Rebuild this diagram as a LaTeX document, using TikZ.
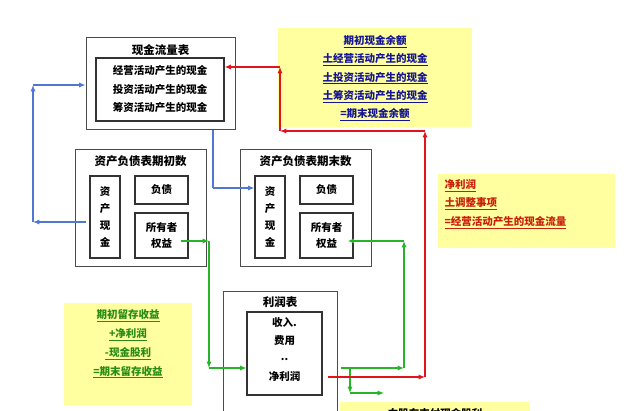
\documentclass[tikz,border=0pt]{standalone}
\usepackage{fontspec}
\setmainfont{Noto Sans CJK SC}
\usetikzlibrary{arrows.meta,positioning}

\definecolor{pale}{RGB}{255,255,160}
\definecolor{bluel}{RGB}{80,120,210}
\definecolor{greenl}{RGB}{40,180,40}
\definecolor{redl}{RGB}{225,20,30}
\definecolor{navy}{RGB}{20,20,150}
\definecolor{darkgreen}{RGB}{40,140,20}
\definecolor{darkred}{RGB}{200,30,10}

\begin{document}
\begin{tikzpicture}[
  x=1pt, y=-1pt,
  every node/.append style={font=\bfseries},
  >={Latex[length=2.2mm,width=1.8mm]},
  frame/.style = {draw=black!70, line width=1pt, inner sep=0pt},
  cell/.style  = {draw=black!80, line width=1.2pt, inner sep=0pt, align=center, font=\bfseries\fontsize{10.5}{17}\selectfont},
  title/.style = {font=\bfseries\fontsize{11.5}{13}\selectfont},
  note/.style  = {fill=pale, inner sep=0pt},
  blu/.style   = {draw=bluel, line width=1.2pt},
  grn/.style   = {draw=greenl, line width=1.2pt},
  rd/.style    = {draw=redl, line width=1.2pt}
]
\useasboundingbox (0,0) rectangle (640,411);
\clip (0,0) rectangle (640,411);

% ---- notes ----
\node[note, minimum width=194, minimum height=99] (cashnote) at (375,77.5) {};
\node[align=center, text=navy, font=\bfseries\fontsize{10.5}{18.2}\selectfont] (cashtext) at (375,78) {%
  \underline{期初现金余额}\\ \underline{土经营活动产生的现金}\\ \underline{土投资活动产生的现金}\\
  \underline{土筹资活动产生的现金}\\ \underline{=期末现金余额}};

\node[note, minimum width=177, minimum height=74] (opnote) at (526.5,211) {};
\node[align=left, text=darkred, font=\bfseries\fontsize{10.5}{18.5}\selectfont, anchor=west] (optext) at (441,204) {%
  \underline{净利润}\\ \underline{土调整事项}\\ \underline{=经营活动产生的现金流量}};

\node[note, minimum width=128, minimum height=102] (renote) at (128,354) {};
\node[align=center, text=darkgreen, font=\bfseries\fontsize{10.5}{18.7}\selectfont] (retext) at (128,344) {%
  \underline{期初留存收益}\\ \underline{+净利润}\\ \underline{-现金股利}\\ \underline{=期末留存收益}};

\node[note, minimum width=190, minimum height=20] (divnote) at (435,412) {};
\node[font=\bfseries\fontsize{10.5}{12}\selectfont] (divtext) at (435,413) {向股东支付现金股利};

% ---- cash flow statement ----
\node[frame, minimum width=149, minimum height=92] (cf) at (160.5,84) {};
\node[title] (cftitle) at (160.5,50) {现金流量表};
\node[cell, minimum width=128, minimum height=63, font=\bfseries\fontsize{10.5}{18.5}\selectfont] (cfin) at (160,89.5)
  {经营活动产生的现金\\投资活动产生的现金\\筹资活动产生的现金};

% ---- balance sheets ----
\node[frame, minimum width=131, minimum height=117] (bsa) at (140.5,208.5) {};
\node[title] (bsatitle) at (140.5,161) {资产负债表期初数};
\node[cell, minimum width=30, minimum height=82] (asseta) at (105,217) {资\\产\\现\\金};
\node[cell, minimum width=53, minimum height=28] (debta) at (161.5,190) {负债};
\node[cell, minimum width=53, minimum height=45, font=\bfseries\fontsize{10.5}{16}\selectfont] (equa) at (161.5,235.5) {所有者\\权益};

\node[frame, minimum width=131, minimum height=117] (bsb) at (305.5,208.5) {};
\node[title] (bsbtitle) at (305.5,161) {资产负债表期末数};
\node[cell, minimum width=30, minimum height=82] (assetb) at (270,217) {资\\产\\现\\金};
\node[cell, minimum width=53, minimum height=28] (debtb) at (326.5,190) {负债};
\node[cell, minimum width=53, minimum height=45, font=\bfseries\fontsize{10.5}{16}\selectfont] (equb) at (326.5,235.5) {所有者\\权益};

% ---- income statement ----
\node[frame, minimum width=114, minimum height=130, anchor=north] (is) at (280,291) {};
\node[title] (istitle) at (280,302) {利润表};
\node[cell, minimum width=75, minimum height=83] (isin) at (284.5,353.5) {};
\node[font=\bfseries\fontsize{10.5}{12}\selectfont] (rev) at (284.5,323) {收入.};
\node[font=\bfseries\fontsize{10.5}{12}\selectfont] (cost) at (284.5,341) {费用};
\node[font=\bfseries\fontsize{10.5}{12}\selectfont] (dots) at (284.5,359) {..};
\node[font=\bfseries\fontsize{10.5}{12}\selectfont] (np) at (284.5,376) {净利润};

% ---- turning points ----
\coordinate (b1) at (213,130);
\coordinate (b2) at (213,188);
\coordinate (b3) at (33,222);
\coordinate (b4) at (33,85);
\coordinate (g1) at (209,241);
\coordinate (g2) at (209,368);
\coordinate (g3) at (341,368);
\coordinate (g4) at (404,368);
\coordinate (g5) at (404,241);
\coordinate (g6) at (350,368);
\coordinate (g7) at (350,393);
\coordinate (g8) at (384,393);
\coordinate (r1) at (328,377);
\coordinate (r2) at (425,377);
\coordinate (r3) at (425,131);
\coordinate (r4) at (280,131);
\coordinate (r5) at (280,67);

% ---- blue ----
\draw[blu] (b1) -- (b2);
\draw[blu,->] (b2) -- (assetb.west |- b2);
\draw[blu,->] (asseta.west |- b3) ++(-3,0) -- (b3);
\draw[blu,->] (b3) -- (b4);
\draw[blu,->] (b4) -- (cf.west |- b4);

% ---- green ----
\draw[grn,->] (equa.center |- g1) ++(19,0) -- (g1);
\draw[grn,->] (g1) -- (g2);
\draw[grn,->] (g2) -- (isin.west |- g2);
\draw[grn,->] (g3) -- (g4);
\draw[grn,->] (g4) -- (g5);
\draw[grn,->] (g5) -- ([xshift=-6pt]equb.east |- g5);
\draw[grn,->] (g6) -- (g7);
\draw[grn,->] (g7) -- (g8);

% ---- red ----
\draw[rd,->] (r1) -- (r2);
\draw[rd,->] (r2) -- (r3);
\draw[rd,->] (r3) -- (r4);
\draw[rd,->] (r4) -- (r5);
\draw[rd,->] (r5) -- (cfin.east |- r5);
\end{tikzpicture}
\end{document}
